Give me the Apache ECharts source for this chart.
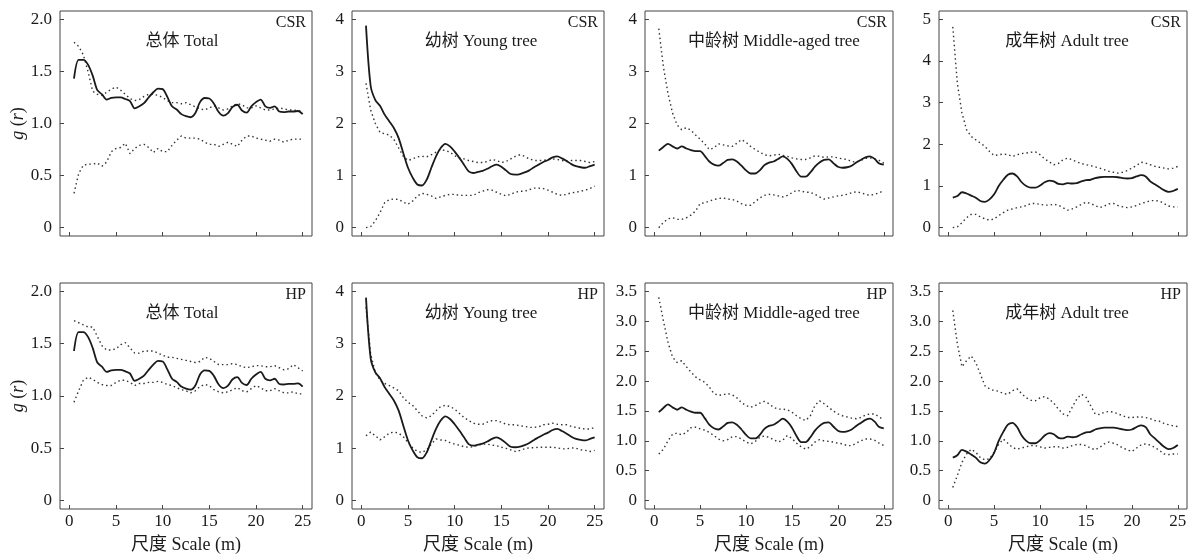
<!DOCTYPE html>
<html><head><meta charset="utf-8">
<script src="https://cdn.jsdelivr.net/npm/echarts@6/dist/echarts.min.js"></script>
<style>html,body{margin:0;padding:0;background:#fff}#c{width:1194px;height:558px}</style>
</head><body><div id="c"></div>
<script>
// distance r (m)
const r = [0.5,1,1.5,2,2.5,3,3.5,4,4.5,5,5.5,6,6.5,7,7.5,8,8.5,9,9.5,10,10.5,11,11.5,12,12.5,13,13.5,14,14.5,15,15.5,16,16.5,17,17.5,18,18.5,19,19.5,20,20.5,21,21.5,22,22.5,23,23.5,24,24.5,25];
const xTicks = [0,5,10,15,20,25];

// observed g(r)
const gTotal = [1.43,1.61,1.61,1.565,1.46,1.32,1.28,1.23,1.245,1.25,1.25,1.235,1.215,1.145,1.165,1.195,1.25,1.30,1.335,1.33,1.255,1.165,1.135,1.09,1.07,1.06,1.10,1.205,1.245,1.24,1.19,1.11,1.075,1.10,1.16,1.18,1.125,1.105,1.165,1.205,1.23,1.165,1.15,1.165,1.115,1.11,1.115,1.115,1.12,1.09];
const gYoung = [3.88,2.72,2.45,2.34,2.17,2.04,1.91,1.72,1.43,1.15,0.96,0.83,0.81,0.92,1.15,1.37,1.53,1.61,1.56,1.46,1.34,1.21,1.08,1.05,1.07,1.09,1.13,1.18,1.21,1.17,1.10,1.03,1.02,1.03,1.06,1.10,1.16,1.21,1.26,1.30,1.35,1.37,1.33,1.28,1.22,1.18,1.16,1.15,1.18,1.21];
const gMid = [1.48,1.55,1.61,1.56,1.52,1.56,1.52,1.49,1.47,1.47,1.38,1.27,1.21,1.19,1.24,1.30,1.31,1.27,1.19,1.10,1.04,1.04,1.10,1.20,1.25,1.27,1.32,1.37,1.32,1.22,1.08,0.98,0.98,1.06,1.17,1.25,1.30,1.31,1.24,1.17,1.15,1.16,1.19,1.25,1.30,1.35,1.37,1.32,1.23,1.21];
const gAdult = [0.72,0.76,0.85,0.82,0.77,0.72,0.64,0.62,0.68,0.80,1.00,1.15,1.27,1.30,1.23,1.09,1.00,0.96,0.96,1.01,1.09,1.13,1.11,1.05,1.04,1.07,1.06,1.07,1.11,1.14,1.15,1.19,1.21,1.22,1.22,1.22,1.21,1.19,1.18,1.19,1.23,1.26,1.23,1.11,1.04,0.97,0.90,0.86,0.88,0.93];

// CSR envelopes
const csrTotalHi = [1.78,1.74,1.66,1.50,1.31,1.28,1.27,1.30,1.33,1.35,1.32,1.28,1.24,1.22,1.23,1.26,1.28,1.28,1.27,1.25,1.22,1.20,1.20,1.19,1.20,1.18,1.16,1.14,1.13,1.15,1.17,1.15,1.13,1.14,1.17,1.19,1.18,1.15,1.15,1.17,1.15,1.13,1.13,1.14,1.15,1.14,1.13,1.13,1.12,1.12];
const csrTotalLo = [0.33,0.52,0.60,0.61,0.61,0.62,0.59,0.63,0.73,0.76,0.77,0.81,0.71,0.76,0.79,0.80,0.77,0.72,0.76,0.73,0.73,0.79,0.84,0.88,0.86,0.86,0.86,0.85,0.82,0.80,0.80,0.78,0.80,0.82,0.80,0.78,0.84,0.88,0.88,0.86,0.85,0.84,0.83,0.85,0.84,0.82,0.84,0.85,0.85,0.85];
const csrYoungHi = [2.77,2.26,2.00,1.83,1.80,1.78,1.69,1.53,1.37,1.29,1.32,1.36,1.37,1.36,1.40,1.45,1.50,1.48,1.45,1.38,1.34,1.32,1.29,1.27,1.25,1.25,1.27,1.31,1.29,1.25,1.27,1.32,1.37,1.40,1.37,1.32,1.29,1.29,1.29,1.31,1.32,1.31,1.29,1.27,1.29,1.29,1.29,1.27,1.25,1.27];
const csrYoungLo = [0.00,0.02,0.13,0.29,0.48,0.54,0.55,0.54,0.49,0.45,0.51,0.61,0.66,0.64,0.61,0.56,0.59,0.62,0.64,0.64,0.62,0.62,0.62,0.62,0.67,0.70,0.73,0.72,0.68,0.64,0.61,0.64,0.68,0.70,0.70,0.73,0.76,0.76,0.75,0.72,0.68,0.64,0.62,0.64,0.67,0.68,0.70,0.72,0.75,0.80];
const csrMidHi = [3.82,3.09,2.58,2.20,1.97,1.88,1.92,1.87,1.78,1.70,1.61,1.50,1.53,1.61,1.59,1.57,1.56,1.62,1.69,1.64,1.56,1.50,1.45,1.40,1.38,1.39,1.41,1.39,1.37,1.34,1.32,1.31,1.31,1.34,1.38,1.37,1.35,1.36,1.36,1.34,1.32,1.31,1.27,1.26,1.29,1.33,1.34,1.32,1.29,1.24];
const csrMidLo = [0.00,0.10,0.17,0.19,0.16,0.16,0.19,0.24,0.32,0.46,0.48,0.51,0.54,0.56,0.57,0.55,0.54,0.51,0.46,0.43,0.43,0.50,0.57,0.62,0.64,0.63,0.61,0.59,0.62,0.67,0.72,0.70,0.68,0.68,0.64,0.59,0.55,0.57,0.59,0.61,0.62,0.64,0.67,0.69,0.67,0.64,0.62,0.64,0.67,0.71];
const csrAdultHi = [4.82,3.46,2.75,2.35,2.19,2.11,2.03,1.95,1.83,1.73,1.75,1.77,1.75,1.71,1.75,1.78,1.79,1.81,1.82,1.75,1.65,1.58,1.51,1.54,1.63,1.67,1.63,1.58,1.54,1.51,1.49,1.46,1.43,1.39,1.35,1.33,1.31,1.33,1.37,1.43,1.49,1.57,1.55,1.51,1.47,1.45,1.43,1.41,1.43,1.47];
const csrAdultLo = [0.00,0.02,0.12,0.24,0.32,0.32,0.26,0.21,0.18,0.21,0.29,0.36,0.42,0.45,0.48,0.50,0.53,0.58,0.58,0.56,0.54,0.54,0.56,0.54,0.48,0.42,0.45,0.50,0.56,0.61,0.58,0.53,0.48,0.52,0.57,0.58,0.53,0.50,0.48,0.50,0.53,0.58,0.61,0.65,0.65,0.64,0.58,0.52,0.50,0.50];

// HP envelopes
const hpTotalHi = [1.72,1.70,1.68,1.66,1.66,1.57,1.48,1.44,1.44,1.45,1.49,1.51,1.46,1.41,1.41,1.43,1.43,1.43,1.41,1.39,1.37,1.37,1.36,1.35,1.34,1.33,1.32,1.33,1.37,1.36,1.33,1.30,1.30,1.30,1.31,1.30,1.28,1.27,1.28,1.29,1.29,1.28,1.28,1.29,1.27,1.25,1.26,1.30,1.27,1.24];
const hpTotalLo = [0.94,1.05,1.15,1.18,1.16,1.13,1.11,1.10,1.10,1.13,1.15,1.15,1.13,1.10,1.12,1.12,1.13,1.13,1.14,1.13,1.11,1.10,1.08,1.06,1.05,1.03,1.05,1.09,1.11,1.10,1.06,1.04,1.03,1.04,1.06,1.08,1.05,1.04,1.07,1.10,1.08,1.05,1.05,1.07,1.05,1.03,1.03,1.04,1.02,1.02];
const hpYoungHi = [3.70,2.80,2.45,2.30,2.24,2.20,2.15,2.10,1.97,1.88,1.82,1.72,1.62,1.58,1.62,1.72,1.80,1.82,1.80,1.75,1.67,1.59,1.53,1.48,1.46,1.46,1.50,1.53,1.53,1.50,1.46,1.45,1.45,1.43,1.42,1.40,1.40,1.41,1.45,1.46,1.48,1.46,1.45,1.45,1.42,1.40,1.38,1.37,1.37,1.40];
const hpYoungLo = [1.24,1.31,1.24,1.16,1.22,1.29,1.31,1.29,1.22,1.11,1.01,0.94,0.92,0.97,1.08,1.18,1.16,1.15,1.11,1.08,1.06,1.03,1.02,1.03,1.06,1.08,1.08,1.06,1.05,1.02,1.00,0.97,0.94,0.96,0.99,1.01,1.01,1.02,1.02,1.02,1.02,1.01,0.99,0.99,1.01,1.00,0.97,0.96,0.94,0.96];
const hpMidHi = [3.40,3.01,2.65,2.40,2.31,2.34,2.24,2.15,2.07,2.02,1.98,1.90,1.79,1.76,1.77,1.79,1.77,1.72,1.64,1.59,1.56,1.59,1.63,1.66,1.62,1.56,1.53,1.53,1.52,1.48,1.42,1.37,1.34,1.42,1.59,1.67,1.62,1.56,1.50,1.45,1.42,1.40,1.38,1.37,1.39,1.43,1.45,1.45,1.40,1.35];
const hpMidLo = [0.78,0.86,1.00,1.11,1.13,1.10,1.14,1.22,1.23,1.20,1.18,1.14,1.09,1.03,1.00,1.02,1.07,1.07,1.03,0.98,0.95,0.99,1.06,1.08,1.06,1.02,0.98,1.01,1.09,1.04,0.96,0.90,0.86,0.90,0.98,1.02,1.00,0.99,0.98,0.96,0.95,0.92,0.92,0.96,1.00,1.03,1.03,1.01,0.96,0.92];
const hpAdultHi = [3.18,2.62,2.24,2.34,2.42,2.31,2.12,1.92,1.87,1.84,1.83,1.79,1.78,1.84,1.87,1.79,1.72,1.68,1.67,1.72,1.74,1.70,1.63,1.53,1.45,1.42,1.56,1.70,1.78,1.73,1.59,1.45,1.44,1.48,1.49,1.48,1.45,1.42,1.39,1.39,1.40,1.40,1.39,1.37,1.34,1.33,1.29,1.27,1.25,1.24];
const hpAdultLo = [0.22,0.42,0.64,0.78,0.86,0.81,0.72,0.68,0.70,0.81,0.94,1.03,0.96,0.89,0.86,0.88,0.90,0.92,0.92,0.90,0.88,0.89,0.90,0.90,0.88,0.89,0.92,0.94,0.94,0.92,0.88,0.85,0.89,0.95,0.98,0.96,0.93,0.88,0.85,0.82,0.88,0.93,0.95,0.93,0.89,0.84,0.78,0.77,0.78,0.78];

// y tick sets
const yTicks2 = [0,0.5,1,1.5,2];
const yTicks4 = [0,1,2,3,4];
const yTicks5 = [0,1,2,3,4,5];
const yTicks35 = [0,0.5,1,1.5,2,2.5,3,3.5];

const titles = ['总体 Total','幼树 Young tree','中龄树 Middle-aged tree','成年树 Adult tree'];
const models = ['CSR','HP'];

const panels = [
  {g:gTotal, hi:csrTotalHi, lo:csrTotalLo, ticks:yTicks2, dec:1},
  {g:gYoung, hi:csrYoungHi, lo:csrYoungLo, ticks:yTicks4, dec:0},
  {g:gMid,   hi:csrMidHi,   lo:csrMidLo,   ticks:yTicks4, dec:0},
  {g:gAdult, hi:csrAdultHi, lo:csrAdultLo, ticks:yTicks5, dec:0},
  {g:gTotal, hi:hpTotalHi,  lo:hpTotalLo,  ticks:yTicks2, dec:1},
  {g:gYoung, hi:hpYoungHi,  lo:hpYoungLo,  ticks:yTicks4, dec:0},
  {g:gMid,   hi:hpMidHi,    lo:hpMidLo,    ticks:yTicks35, dec:1},
  {g:gAdult, hi:hpAdultHi,  lo:hpAdultLo,  ticks:yTicks35, dec:1}
];

const FONT = '"Liberation Serif","Noto Sans CJK SC",serif';
const TXT = '#1a1a1a';
const BOX = '#444';
const colLeft = [60,352,645,939], colWidth = [252,252,248,248];
const rowTop = [11,283], rowHeight = [225,226];
const titleDx = [-4,3,5,4];

const grid=[], xAxis=[], yAxis=[], series=[], graphic=[];
panels.forEach((p,i)=>{
  const row = Math.floor(i/4), col = i%4;
  const yMax = p.ticks[p.ticks.length-1];
  grid.push({left:colLeft[col], top:rowTop[row], width:colWidth[col], height:rowHeight[row],
    show:true, borderColor:BOX, borderWidth:1, backgroundColor:'transparent'});
  xAxis.push({type:'value', gridIndex:i, min:-1, max:26, position:'bottom',
    axisLine:{show:false, onZero:false}, splitLine:{show:false},
    axisTick:{show:true, inside:true, length:4, customValues:xTicks, lineStyle:{color:BOX}},
    axisLabel:{show:row===1, customValues:xTicks, margin:4, fontSize:17, fontFamily:FONT, color:TXT},
    name: row===1 ? '尺度 Scale (m)' : '', nameLocation:'middle', nameGap:27,
    nameTextStyle:{fontSize:18, fontFamily:FONT, color:TXT}});
  yAxis.push({type:'value', gridIndex:i, min:-0.04*yMax, max:1.04*yMax, position:'left',
    axisLine:{show:false, onZero:false}, splitLine:{show:false},
    axisTick:{show:true, inside:true, length:4, customValues:p.ticks, lineStyle:{color:BOX}},
    axisLabel:{customValues:p.ticks, margin:8, fontSize:17, fontFamily:FONT, color:TXT,
      formatter:v=> v===0 ? '0' : v.toFixed(p.dec)},
    name: col===0 ? '{i|g} ({i|r})' : '', nameLocation:'middle', nameGap:30, nameRotate:90,
    nameTextStyle:{fontSize:18, fontFamily:FONT, color:TXT,
      rich:{i:{fontStyle:'italic', fontSize:18, fontFamily:FONT, color:TXT}}}});
  const dotted = {type:[1.5,3], width:1.4, color:'#333'};
  series.push({type:'line', xAxisIndex:i, yAxisIndex:i, symbol:'none', silent:true, z:2,
    data:r.map((x,j)=>[x,p.hi[j]]), lineStyle:dotted});
  series.push({type:'line', xAxisIndex:i, yAxisIndex:i, symbol:'none', silent:true, z:2,
    data:r.map((x,j)=>[x,p.lo[j]]), lineStyle:dotted});
  series.push({type:'line', xAxisIndex:i, yAxisIndex:i, symbol:'none', silent:true, z:3, smooth:0.3,
    data:r.map((x,j)=>[x,p.g[j]]), lineStyle:{width:1.8, color:'#1a1a1a'}});
  graphic.push({type:'text', x:colLeft[col]+colWidth[col]/2+titleDx[col], y:rowTop[row]+31,
    style:{text:titles[col], fontSize:17, fontFamily:FONT, fill:TXT,
      align:'center', verticalAlign:'middle', textAlign:'center', textVerticalAlign:'middle'}});
  graphic.push({type:'text', x:colLeft[col]+colWidth[col]-6, y:rowTop[row]+12,
    style:{text:models[row], fontSize:16, fontFamily:FONT, fill:TXT,
      align:'right', verticalAlign:'middle', textAlign:'right', textVerticalAlign:'middle'}});
});

const chart = echarts.init(document.getElementById('c'), null, {renderer:'canvas'});
chart.setOption({animation:false, backgroundColor:'#fff', grid, xAxis, yAxis, series, graphic});
</script></body></html>
